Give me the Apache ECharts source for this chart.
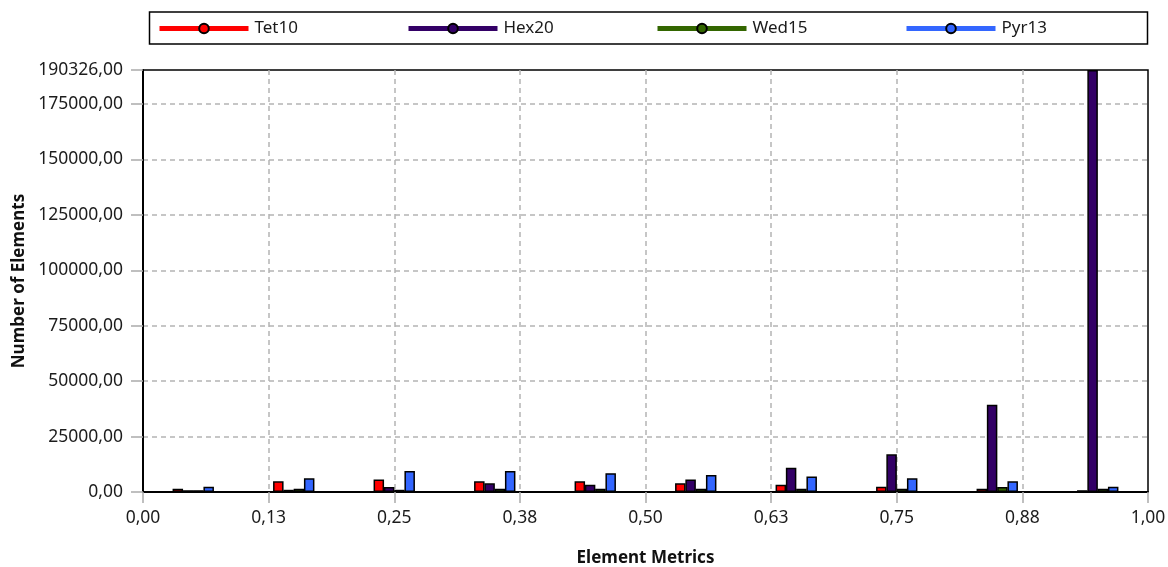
<!DOCTYPE html>
<html>
<head>
<meta charset="utf-8">
<script src="https://cdn.jsdelivr.net/npm/echarts@6/dist/echarts.min.js"></script>
<style>
html,body{margin:0;padding:0;background:#fff;}
#chart{width:1168px;height:567px;}
</style>
</head>
<body>
<div id="chart"></div>
<script>
// bin centres on the Element Metrics axis
const binCenters = [0.05, 0.15, 0.25, 0.35, 0.45, 0.55, 0.65, 0.75, 0.85, 0.95];
const seriesNames = ['Tet10', 'Hex20', 'Wed15', 'Pyr13'];
const tet10 = [1500, 4800, 5600, 4800, 4800, 3900, 3300, 2400, 1500, 800];
const hex20 = [800, 1000, 2300, 3900, 3300, 5600, 10900, 17000, 39400, 190326];
const wed15 = [800, 1500, 1000, 1500, 1500, 1500, 1500, 1500, 2300, 1500];
const pyr13 = [2400, 6200, 9500, 9500, 8500, 7700, 7000, 6200, 4800, 2400];
const yMax = 190326;
const yInterval = 25000;
const xInterval = 0.125;

const colors = ['#ff0000', '#330066', '#336600', '#3366ff'];
const values = [tet10, hex20, wed15, pyr13];
const fmt = v => v.toFixed(2).replace('.', ',');
const FONT = '"Noto Sans", "Open Sans", sans-serif';

const chart = echarts.init(document.getElementById('chart'), null, {renderer: 'canvas'});

const lineSeries = seriesNames.map((n, i) => ({
  name: n,
  type: 'line',
  data: [],
  symbol: 'circle',
  color: colors[i],
  lineStyle: {width: 5, color: colors[i]},
  itemStyle: {color: colors[i], borderColor: '#000', borderWidth: 1.5}
}));

const barSeries = seriesNames.map((n, i) => ({
  name: n,
  type: 'bar',
  barWidth: 10.5,
  barGap: '-2%',
  color: colors[i],
  itemStyle: {color: colors[i], borderColor: '#000', borderWidth: 1.5},
  data: binCenters.map((x, j) => [x, values[i][j]])
}));

const legendLefts = [157, 406, 655, 904];
const legends = seriesNames.map((n, i) => ({
  data: [n],
  left: legendLefts[i],
  top: 20,
  padding: 0,
  itemWidth: 89,
  itemHeight: 12,
  itemGap: 0,
  lineStyle: {width: 5},
  textStyle: {fontFamily: FONT, fontSize: 17, color: '#1a1a1a', padding: [0, 0, 0, 1]},
  selectedMode: false
}));

chart.setOption({
  animation: false,
  backgroundColor: '#fff',
  graphic: [{
    type: 'rect',
    shape: {x: 149.5, y: 12, width: 998, height: 32},
    style: {fill: 'none', stroke: '#000', lineWidth: 1.5},
    z: 0
  }],
  legend: legends,
  grid: {
    left: 143, right: 20, top: 70, bottom: 75,
    outerBoundsMode: 'none',
    containLabel: false,
    show: true, borderColor: '#000', borderWidth: 1.5, backgroundColor: 'transparent'
  },
  xAxis: {
    type: 'value',
    min: 0, max: 1, interval: xInterval,
    name: 'Element Metrics',
    nameLocation: 'middle',
    nameGap: 58,
    nameTextStyle: {fontFamily: FONT, fontSize: 17, fontWeight: 'bold', color: '#111'},
    axisLine: {show: true, lineStyle: {color: '#000', width: 2}},
    axisTick: {show: true, length: 11, lineStyle: {color: '#aaa', width: 1.5}},
    axisLabel: {formatter: fmt, fontFamily: FONT, fontSize: 17.5, color: '#1c1c1c', margin: 17},
    splitLine: {show: true, showMinLine: false, showMaxLine: false, lineStyle: {color: '#b4b4b4', width: 1.5, type: [5, 4]}}
  },
  yAxis: {
    type: 'value',
    min: 0, max: yMax, interval: yInterval,
    name: 'Number of Elements',
    nameLocation: 'middle',
    nameGap: 115,
    nameTextStyle: {fontFamily: FONT, fontSize: 17, fontWeight: 'bold', color: '#111'},
    axisLine: {show: true, lineStyle: {color: '#000', width: 2}},
    axisTick: {show: true, length: 12, lineStyle: {color: '#aaa', width: 1.5}},
    axisLabel: {formatter: fmt, fontFamily: FONT, fontSize: 17.5, color: '#1c1c1c', margin: 20, showMaxLabel: true},
    splitLine: {show: true, showMinLine: false, showMaxLine: false, lineStyle: {color: '#b4b4b4', width: 1.5, type: [5, 4]}}
  },
  series: lineSeries.concat(barSeries)
});
</script>
</body>
</html>
